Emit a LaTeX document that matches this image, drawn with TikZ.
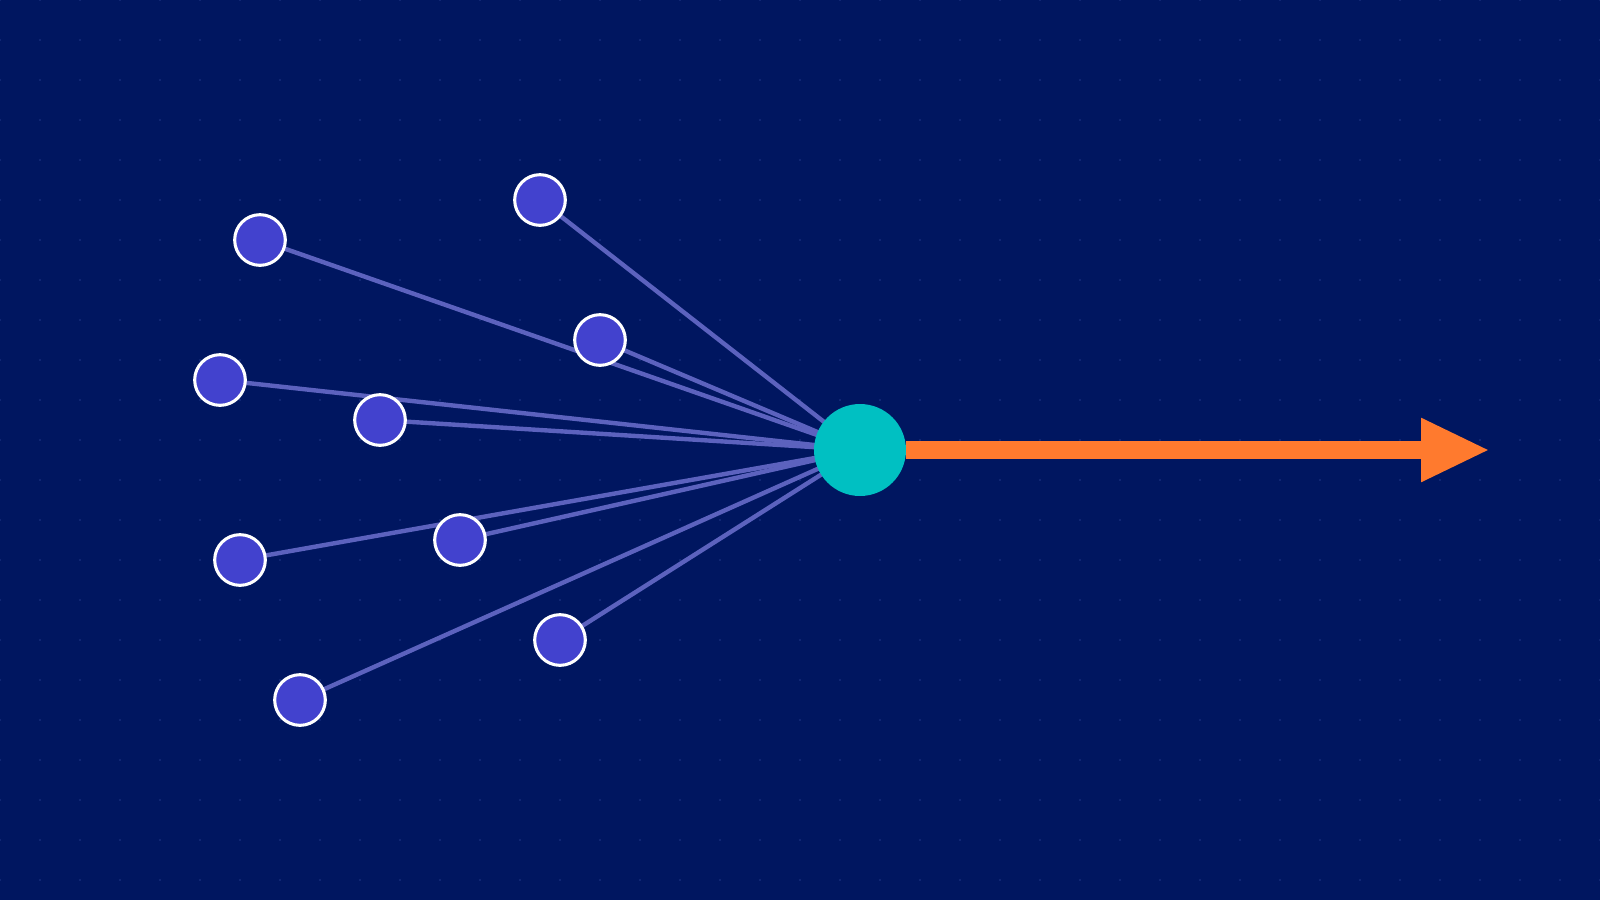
\documentclass[tikz,border=0pt]{standalone}
\usetikzlibrary{arrows.meta}

\definecolor{bgnavy}{RGB}{0,22,96}
\definecolor{gridspot}{RGB}{22,44,122}
\definecolor{leafblue}{RGB}{66,66,206}
\definecolor{spoke}{RGB}{92,98,190}
\definecolor{hubteal}{RGB}{0,192,194}
\definecolor{outorange}{RGB}{255,122,46}

\pgfdeclarelayer{backdrop}
\pgfdeclarelayer{edges}
\pgfsetlayers{backdrop,edges,main}

\tikzset{
  leaf/.style={circle,draw=white,line width=2.3pt,fill=leafblue,minimum size=38pt,inner sep=0pt},
  hub/.style={circle,fill=hubteal,minimum size=69pt,inner sep=0pt},
  spokeline/.style={draw=spoke,line width=3.3pt},
}

\begin{document}
\begin{tikzpicture}[x=0.75pt,y=0.75pt,yscale=-1,xscale=1]
\useasboundingbox (0,0) rectangle (1600,900);

\begin{pgfonlayer}{backdrop}
%Shape: Rectangle [id:background]
\fill [bgnavy] (0,0) rectangle (1600,900);
%Shape: Dot grid
\foreach \gx in {0,40,...,1600} {
  \foreach \gy in {0,40,...,900} {
    \fill [gridspot] (\gx,\gy) circle (0.9pt);
  }
}
\end{pgfonlayer}

%Shape: Circle [id:hub]
\node [hub] (hub) at (860,450) {};

%Shape: Circles [id:leaves]
\node [leaf] (la) at (260,240) {};
\node [leaf] (lb) at (540,200) {};
\node [leaf] (lc) at (600,340) {};
\node [leaf] (ld) at (220,380) {};
\node [leaf] (le) at (380,420) {};
\node [leaf] (lf) at (240,560) {};
\node [leaf] (lg) at (460,540) {};
\node [leaf] (lh) at (560,640) {};
\node [leaf] (li) at (300,700) {};

%Straight Lines [id:spokes]
\begin{pgfonlayer}{edges}
\foreach \lv in {la,lb,lc,ld,le,lf,lg,lh,li} {
  \path [spokeline] (\lv.center) -- (hub.center);
}
\end{pgfonlayer}

%Straight Lines [id:output arrow]
\coordinate (tip) at (1490,450);
\draw [draw=outorange,line width=13.5pt,-{Triangle[length=51.75pt,width=44.25pt]}] (hub.east) -- (tip);

\end{tikzpicture}
\end{document}
